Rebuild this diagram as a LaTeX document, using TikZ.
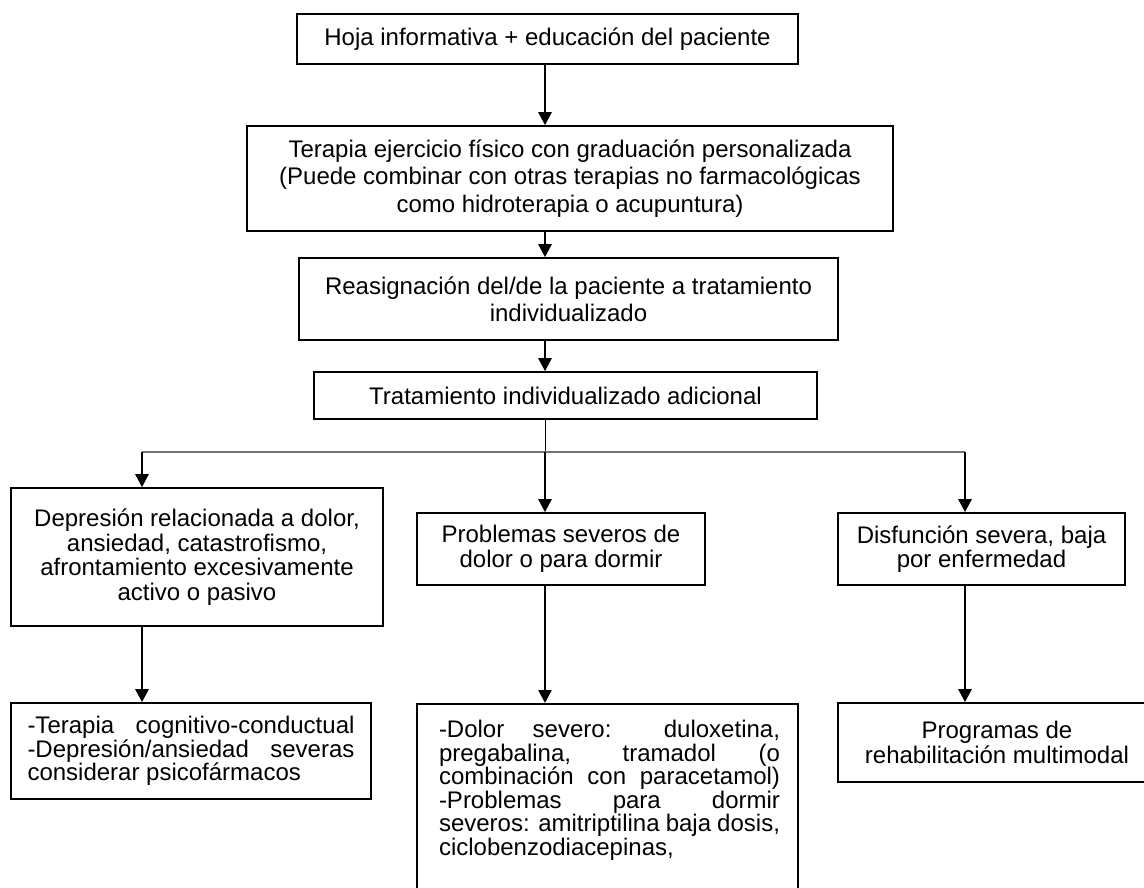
\documentclass[tikz,border=0pt]{standalone}
\usepackage{fontspec}
\setmainfont{Liberation Sans}
\usetikzlibrary{arrows.meta}
\tikzset{
  box/.style={draw, line width=1.6pt, inner sep=0pt, align=center,
    font=\fontsize{24}{24.5}\selectfont},
  plain/.style={inner sep=0pt, align=center, font=\fontsize{24}{23.6}\selectfont},
  arr/.style={line width=2.6pt, -{Triangle[width=13pt,length=13pt]}},
  thinline/.style={line width=1pt},
  branch/.style={line width=1.4pt, draw=black!55},
}
\begin{document}
\begin{tikzpicture}[x=1pt,y=-1pt]
\useasboundingbox (0,0) rectangle (1144,888);
\fill[white] (0,0) rectangle (1144,888);
\clip (0,0) rectangle (1144,888);

\node[box, minimum width=501pt, minimum height=50pt] (box1) at (547.5,39)
  {Hoja informativa + educación del paciente};
\node[box, minimum width=646pt, minimum height=105pt,
  font=\fontsize{24}{27.5}\selectfont] (box2) at (570,178.5)
  {Terapia ejercicio físico con graduación personalizada\\
   (Puede combinar con otras terapias no farmacológicas\\
   como hidroterapia o acupuntura)};
\node[box, minimum width=539pt, minimum height=82pt,
  font=\fontsize{24}{27}\selectfont] (box3) at (568.5,299)
  {Reasignación del/de la paciente a tratamiento\\ individualizado};
\node[box, minimum width=503pt, minimum height=47pt] (box4) at (565.5,395.5)
  {Tratamiento individualizado adicional};

\node[box, minimum width=372pt, minimum height=138pt] (box5) at (197,557)
  {Depresión relacionada a dolor,\\ ansiedad, catastrofismo,\\
   afrontamiento excesivamente\\ activo o pasivo};
\node[box, minimum width=288pt, minimum height=72pt] (box6) at (561,549)
  {Problemas severos de\\ dolor o para dormir};
\node[box, minimum width=287pt, minimum height=72pt] (box7) at (981.5,549)
  {Disfunción severa, baja\\ por enfermedad};

\node[box, minimum width=360pt, minimum height=96pt,
  font=\fontsize{24}{23.6}\selectfont] (box8) at (191,751)
  {\makebox[327pt][s]{-Terapia cognitivo-conductual}\\
   \makebox[327pt][s]{-Depresión/ansiedad severas}\\
   \makebox[327pt][l]{considerar psicofármacos}};
\node[draw, line width=1.6pt, inner sep=0pt, minimum width=381pt,
  minimum height=240pt, anchor=north] (box9) at (607.5,703) {};
\node[plain, anchor=north] (box9t) at (609.5,720)
  {\makebox[341pt][s]{-Dolor severo: duloxetina,}\\
   \makebox[341pt][s]{pregabalina, tramadol (o}\\
   \makebox[341pt][s]{combinación con paracetamol)}\\
   \makebox[341pt][s]{-Problemas para dormir}\\
   \makebox[341pt][s]{severos: amitriptilina baja dosis,}\\
   \makebox[341pt][l]{ciclobenzodiacepinas,}};
\node[box, minimum width=318pt, minimum height=79pt] (box10) at (997,742.5)
  {Programas de\\ rehabilitación multimodal};

\coordinate (cx) at (545,0);
\coordinate (bl) at (142,452);
\coordinate (bm) at (545,452);
\coordinate (br) at (965,452);

\draw[arr] (box1.south -| cx) -- (box2.north -| cx);
\draw[arr] (box2.south -| cx) -- (box3.north -| cx);
\draw[arr] (box3.south -| cx) -- (box4.north -| cx);
\draw[thinline] (box4.south -| cx) -- (bm);
\draw[branch] (bl) -- (br);
\draw[arr] (bl) -- (box5.north -| bl);
\draw[arr] (bm) -- (box6.north -| bm);
\draw[arr] (br) -- (box7.north -| br);
\draw[arr] (box5.south -| bl) -- (box8.north -| bl);
\draw[arr] (box6.south -| bm) -- (box9.north -| bm);
\draw[arr] (box7.south -| br) -- (box10.north -| br);
\end{tikzpicture}
\end{document}
